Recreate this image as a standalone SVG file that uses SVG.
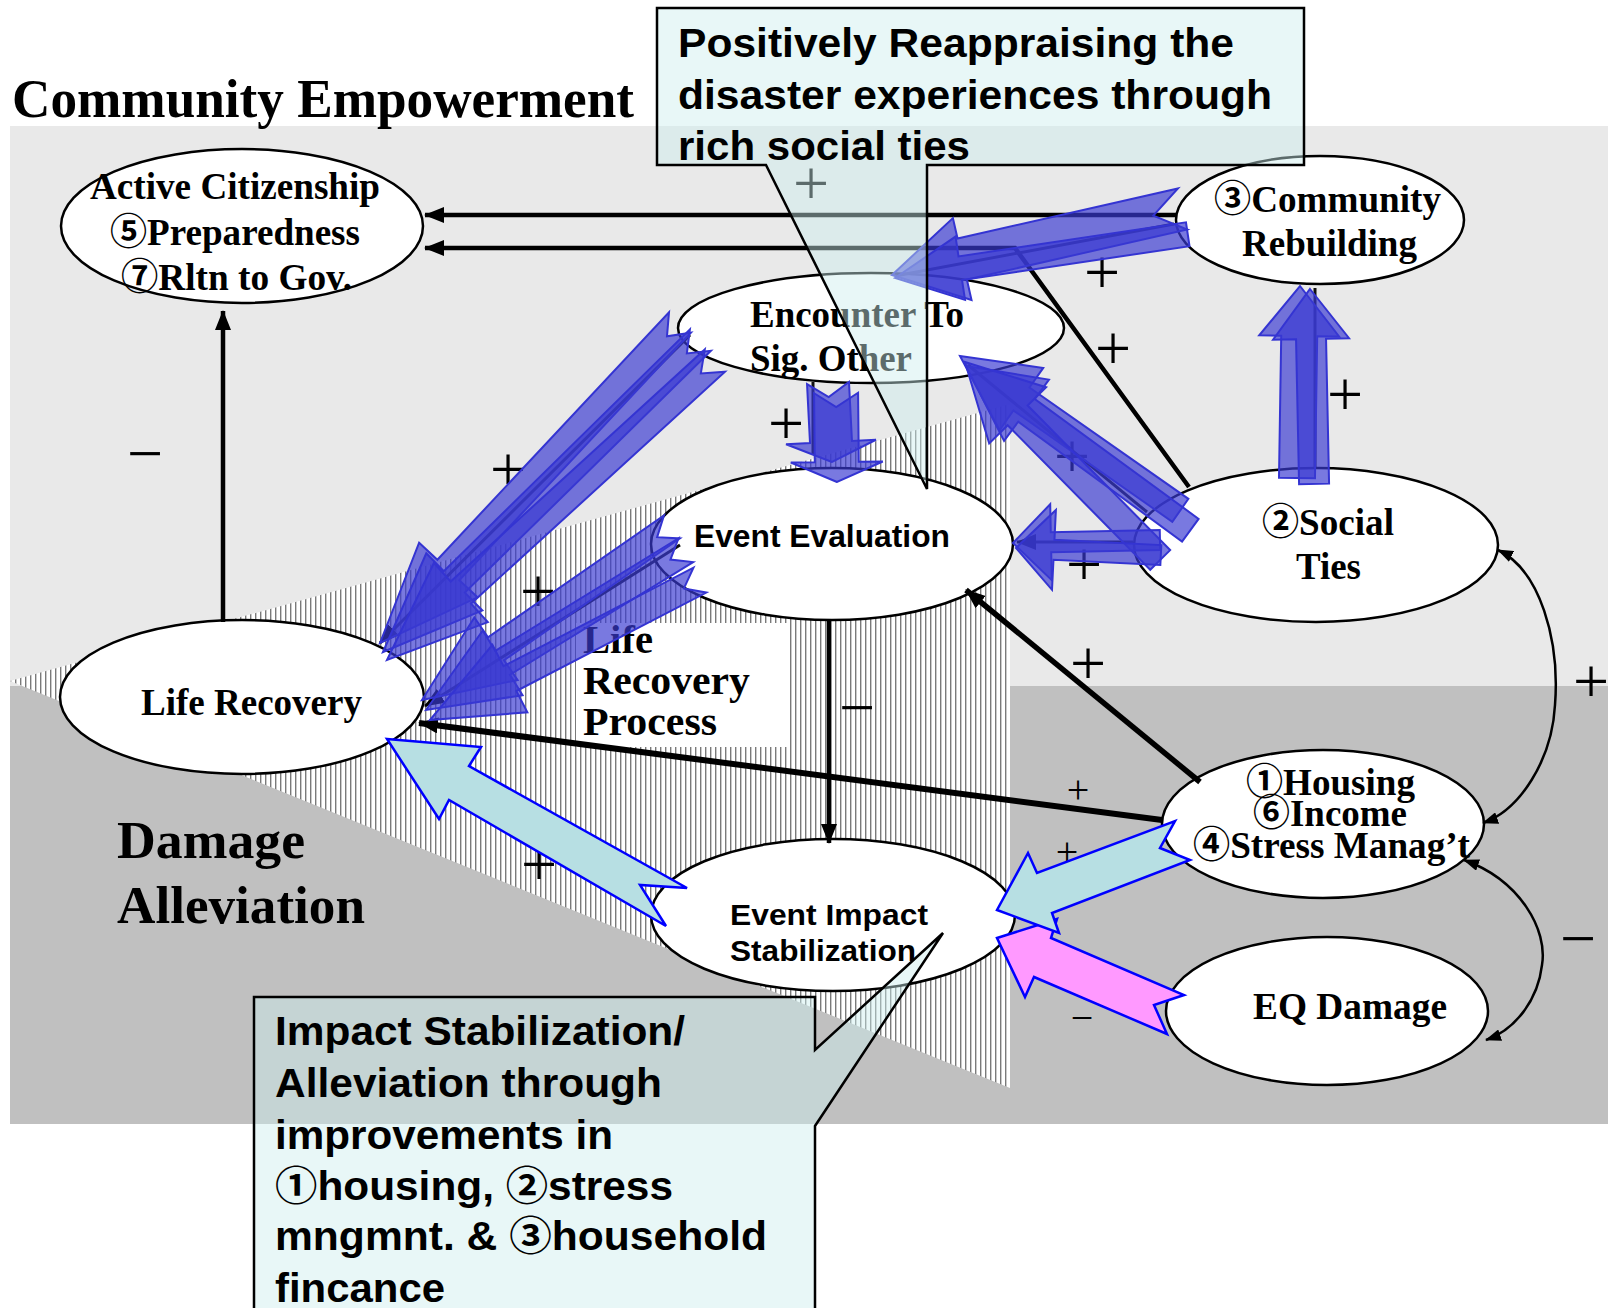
<svg xmlns="http://www.w3.org/2000/svg" width="1608" height="1308" viewBox="0 0 1608 1308">
<defs>
<style>
.node ellipse{fill:#fff;stroke:#000;stroke-width:2.5}
.tb{font-family:'Liberation Serif','Noto Sans CJK JP',serif;font-weight:bold;font-size:37px;fill:#000}
.sb{font-family:'Liberation Sans','Noto Sans CJK JP',sans-serif;font-weight:bold;fill:#000}
.sign{font-family:'Liberation Serif',serif;font-size:64px;text-anchor:middle;fill:#000}
.small{font-size:40px}
.ln{fill:none;stroke:#000;stroke-width:4.5}
.ln2{fill:none;stroke:#000;stroke-width:2.5}
.cl{fill:none;stroke:#111;stroke-width:3}
.blue{fill:#3a3ad2;fill-opacity:.68;stroke:#3434d2;stroke-width:2}
.cyan{fill:#b7dfe3;stroke:#0000ff;stroke-width:2.5}
.mag{fill:#ff99ff;stroke:#0000ff;stroke-width:2.5}
.callout{fill:#cdeeee;fill-opacity:.45;stroke:#000;stroke-width:2.5}
</style>
<marker id="ah" viewBox="0 0 20 16" refX="19" refY="8" markerWidth="20" markerHeight="16" markerUnits="userSpaceOnUse" orient="auto"><path d="M0,0 L20,8 L0,16 Z" fill="#000"/></marker>
<marker id="ahs" viewBox="0 0 16 12" refX="15" refY="6" markerWidth="16" markerHeight="12" markerUnits="userSpaceOnUse" orient="auto-start-reverse"><path d="M0,0 L16,6 L0,12 Z" fill="#000"/></marker>
<pattern id="stripes" width="5" height="10" patternUnits="userSpaceOnUse"><rect width="5" height="10" fill="#fff"/><rect width="1.4" height="10" fill="#7a7a7a"/></pattern>
</defs>

<g id="background">
<rect width="1608" height="1308" fill="#fff"/>
<rect x="10" y="126" width="1598" height="560" fill="#e9e9e9"/>
<rect x="10" y="686" width="1598" height="438" fill="#c0c0c0"/>
<polygon points="10,681 1010,404 1010,1088" fill="url(#stripes)"/>
<rect x="576" y="623" width="211" height="124" fill="#fff"/>
</g>

<g id="region-labels">
<text class="tb" x="12" y="117" textLength="622" lengthAdjust="spacingAndGlyphs" style="font-size:54px">Community Empowerment</text>
<text class="tb" x="117" y="858" style="font-size:52px" textLength="188" lengthAdjust="spacingAndGlyphs">Damage</text>
<text class="tb" x="117" y="923" style="font-size:52px" textLength="248" lengthAdjust="spacingAndGlyphs">Alleviation</text>
<text class="tb" x="583" y="653" style="font-size:41px" textLength="70" lengthAdjust="spacingAndGlyphs">Life</text>
<text class="tb" x="583" y="694" style="font-size:41px" textLength="167" lengthAdjust="spacingAndGlyphs">Recovery</text>
<text class="tb" x="583" y="735" style="font-size:41px" textLength="134" lengthAdjust="spacingAndGlyphs">Process</text>
</g>

<g id="signs">
<text class="sign" x="811" y="205">+</text>
<text class="sign" x="1102" y="294">+</text>
<text class="sign" x="1113" y="370">+</text>
<text class="sign" x="1345" y="416">+</text>
<text class="sign" x="786" y="445">+</text>
<text class="sign" x="145" y="475">−</text>
<text class="sign" x="508" y="491">+</text>
<text class="sign" x="538" y="613">+</text>
<text class="sign" x="1072" y="478">+</text>
<text class="sign" x="1084" y="586">+</text>
<text class="sign" x="1088" y="685">+</text>
<text class="sign" x="857" y="729">−</text>
<text class="sign" x="1591" y="703">+</text>
<text class="sign small" x="1078" y="803">+</text>
<text class="sign small" x="1067" y="865">+</text>
<text class="sign" x="539" y="886">+</text>
<text class="sign" x="1578" y="960">−</text>
<text class="sign small" x="1082" y="1031">−</text>
</g>

<g id="node-active-citizenship" class="node">
<ellipse cx="242" cy="226" rx="181" ry="77"/>
<text class="tb" x="90" y="199" textLength="290" lengthAdjust="spacingAndGlyphs">Active Citizenship</text>
<text class="tb" x="110" y="245" textLength="250" lengthAdjust="spacingAndGlyphs">⑤Preparedness</text>
<text class="tb" x="121" y="290" textLength="231" lengthAdjust="spacingAndGlyphs">⑦Rltn to Gov.</text>
</g>
<g id="node-encounter" class="node">
<ellipse cx="871" cy="328" rx="193" ry="55"/>
<text class="tb" x="750" y="327" textLength="214" lengthAdjust="spacingAndGlyphs">Encounter To</text>
<text class="tb" x="750" y="371" textLength="162" lengthAdjust="spacingAndGlyphs">Sig. Other</text>
</g>
<g id="node-community-rebuilding" class="node">
<ellipse cx="1320" cy="220" rx="144" ry="64"/>
<text class="tb" x="1214" y="212" textLength="227" lengthAdjust="spacingAndGlyphs">③Community</text>
<text class="tb" x="1242" y="256" textLength="175" lengthAdjust="spacingAndGlyphs">Rebuilding</text>
</g>
<g id="node-event-evaluation" class="node">
<ellipse cx="832" cy="544" rx="181" ry="76"/>
<text class="sb" x="694" y="547" style="font-size:31px" textLength="256" lengthAdjust="spacingAndGlyphs">Event Evaluation</text>
</g>
<g id="node-social-ties" class="node">
<ellipse cx="1316" cy="545" rx="182" ry="77"/>
<text class="tb" x="1262" y="535" textLength="132" lengthAdjust="spacingAndGlyphs">②Social</text>
<text class="tb" x="1296" y="579" textLength="65" lengthAdjust="spacingAndGlyphs">Ties</text>
</g>
<g id="node-life-recovery" class="node">
<ellipse cx="242" cy="697" rx="182" ry="77"/>
<text class="tb" x="141" y="715" textLength="221" lengthAdjust="spacingAndGlyphs">Life Recovery</text>
</g>
<g id="node-event-impact" class="node">
<ellipse cx="833" cy="915" rx="182" ry="76"/>
<text class="sb" x="730" y="925" style="font-size:30px" textLength="198" lengthAdjust="spacingAndGlyphs">Event Impact</text>
<text class="sb" x="730" y="961" style="font-size:30px" textLength="186" lengthAdjust="spacingAndGlyphs">Stabilization</text>
</g>
<g id="node-housing" class="node">
<ellipse cx="1323" cy="824" rx="161" ry="74"/>
<text class="tb" x="1246" y="795" textLength="169" lengthAdjust="spacingAndGlyphs">①Housing</text>
<text class="tb" x="1253" y="826" textLength="154" lengthAdjust="spacingAndGlyphs">⑥Income</text>
<text class="tb" x="1193" y="858" textLength="277" lengthAdjust="spacingAndGlyphs">④Stress Manag’t</text>
</g>
<g id="node-eq-damage" class="node">
<ellipse cx="1327" cy="1011" rx="161" ry="74"/>
<text class="tb" x="1253" y="1019" textLength="194" lengthAdjust="spacingAndGlyphs">EQ Damage</text>
</g>

<g id="connectors">
<path class="ln" d="M1177,215 H425" marker-end="url(#ah)"/>
<path class="ln" d="M1189,487 L1015,248 H425" marker-end="url(#ah)"/>
<path class="ln" d="M223,622 V311" marker-end="url(#ah)"/>
<path class="ln" d="M829,620 V843" marker-end="url(#ah)"/>
<path class="ln" style="stroke-width:5.5" d="M1200,782 L966,590" marker-end="url(#ah)"/>
<path class="ln" style="stroke-width:6" d="M1162,820 L419,723" marker-end="url(#ah)"/>
<path class="ln2" d="M1498,550 C1540,570 1560,640 1555,705 C1552,760 1520,810 1483,823" marker-start="url(#ahs)" marker-end="url(#ahs)"/>
<path class="ln2" d="M1464,860 C1520,880 1548,930 1542,965 C1538,1000 1515,1030 1486,1040" marker-start="url(#ahs)" marker-end="url(#ahs)"/>
<path class="cl" d="M690,335 L380,643" marker-end="url(#ah)"/>
<path class="cl" d="M680,545 L425,706" marker-end="url(#ah)"/>
<path class="cl" d="M1174,224 L895,276"/>
<path class="cl" d="M1315,467 V288"/>
<path class="cl" d="M1147,512 L968,365"/>
<path class="cl" d="M1133,542 H1017" marker-end="url(#ah)"/>
<path class="cl" d="M813,382 V455"/>
<polygon class="blue" transform="translate(892,275) rotate(-12.8)" points="0,0 72,-42 72,-21 298,-21 268,0 298,21 72,21 72,42"/>
<polygon class="blue" transform="translate(895,278) rotate(-8.5)" points="0,0 66,-32 66,-12 296,-12 296,12 66,12 66,32"/>
<polygon class="blue" transform="translate(1300,286) rotate(90.9)" points="0,0 50,-40 50,-18 192,-18 192,18 50,18 50,40"/>
<polygon class="blue" transform="translate(1310,289) rotate(88.8)" points="0,0 50,-38 50,-15 195,-15 195,15 50,15 50,38"/>
<polygon class="blue" transform="translate(960,356) rotate(35)" points="0,0 75,-38 75,-14 269,-14 269,14 75,14 75,38"/>
<polygon class="blue" transform="translate(966,366) rotate(36.2)" points="0,0 75,-38 75,-14 278,-14 278,14 75,14 75,38"/>
<polygon class="blue" transform="translate(965,362) rotate(45.4)" points="0,0 75,-40 75,-14 278,-14 278,14 75,14 75,40"/>
<polygon class="blue" transform="translate(1013,543) rotate(-1.2)" points="0,0 38,-38 38,-10 147,-10 147,10 38,10 38,38"/>
<polygon class="blue" transform="translate(1016,548) rotate(2.8)" points="0,0 38,-40 38,-10 145,-10 145,10 38,10 38,40"/>
<polygon class="blue" transform="translate(832,462) rotate(-92.9)" points="0,0 20,-45 20,-21 79,-21 65,0 79,21 20,21 20,45"/>
<polygon class="blue" transform="translate(837,482) rotate(-90.6)" points="0,0 20,-46 20,-22 89,-22 75,0 89,22 20,22 20,46"/>
<polygon class="blue" transform="translate(380,643) rotate(-46.9)" points="0,0 100,-40 100,-15 439,-15 420,0 439,15 100,15 100,40"/>
<polygon class="blue" transform="translate(383,652) rotate(-44.5)" points="0,0 100,-40 100,-15 445,-15 426,0 445,15 100,15 100,40"/>
<polygon class="blue" transform="translate(387,660) rotate(-42.4)" points="0,0 100,-40 100,-15 444,-15 425,0 444,15 100,15 100,40"/>
<polygon class="blue" transform="translate(422,700) rotate(-34.7)" points="0,0 90,-38 90,-14 304,-14 286,0 304,14 90,14 90,38"/>
<polygon class="blue" transform="translate(426,710) rotate(-31.6)" points="0,0 90,-38 90,-14 305,-14 287,0 305,14 90,14 90,38"/>
<polygon class="blue" transform="translate(430,720) rotate(-27.4)" points="0,0 90,-38 90,-14 304,-14 286,0 304,14 90,14 90,38"/>
<polygon class="cyan" points="387,739 481,747 469,766 687,888 640,885 666,926 449,800 439,819"/>
<polygon class="mag" points="997,938 1057,919 1051,938 1184,995 1154,1005 1167,1034 1034,977 1025,997"/>
<polygon class="cyan" points="997,910 1028,853 1037,873 1175,821 1160,848 1190,860 1052,913 1059,933"/>
</g>

<g id="callout-reappraising">
<path class="callout" d="M657,8 H1304 V165 H927 V489 L766,165 H657 Z"/>
<text class="sb" x="678" y="57" style="font-size:41px" textLength="556" lengthAdjust="spacingAndGlyphs">Positively Reappraising the</text>
<text class="sb" x="678" y="109" style="font-size:41px" textLength="594" lengthAdjust="spacingAndGlyphs">disaster experiences through</text>
<text class="sb" x="678" y="160" style="font-size:41px" textLength="292" lengthAdjust="spacingAndGlyphs">rich social ties</text>
</g>
<g id="callout-stabilization">
<path class="callout" d="M254,997 H815 V1050 L943,933 L815,1126 V1312 H254 Z"/>
<text class="sb" x="275" y="1045" style="font-size:40px" textLength="410" lengthAdjust="spacingAndGlyphs">Impact Stabilization/</text>
<text class="sb" x="275" y="1097" style="font-size:40px" textLength="387" lengthAdjust="spacingAndGlyphs">Alleviation through</text>
<text class="sb" x="275" y="1149" style="font-size:40px" textLength="338" lengthAdjust="spacingAndGlyphs">improvements in</text>
<text class="sb" x="275" y="1200" style="font-size:40px" textLength="398" lengthAdjust="spacingAndGlyphs">①housing, ②stress</text>
<text class="sb" x="275" y="1250" style="font-size:40px" textLength="492" lengthAdjust="spacingAndGlyphs">mngmnt. &amp; ③household</text>
<text class="sb" x="275" y="1302" style="font-size:40px" textLength="170" lengthAdjust="spacingAndGlyphs">fincance</text>
</g>
</svg>
